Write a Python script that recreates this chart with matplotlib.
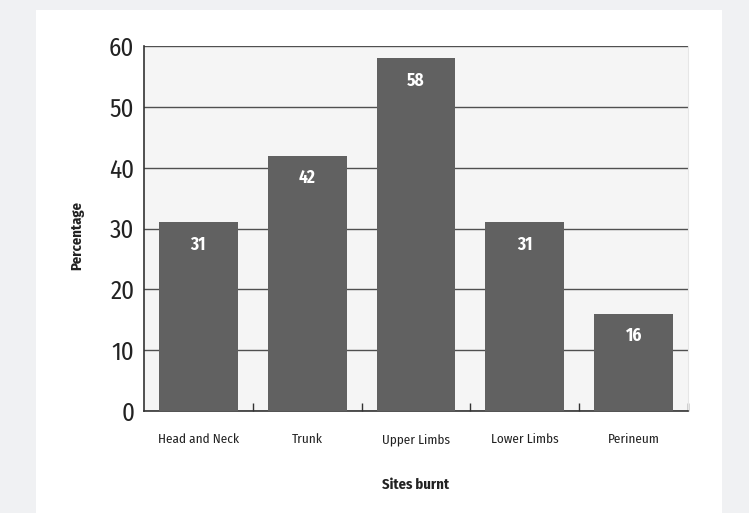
import matplotlib
matplotlib.use("Agg")
import matplotlib.pyplot as plt
from matplotlib.patches import Rectangle

# Sites of burn injury (% of patients)
sites = ["Head and Neck", "Trunk", "Upper Limbs", "Lower Limbs", "Perineum"]
percentages = [31, 42, 58, 31, 16]
yticks = [0, 10, 20, 30, 40, 50, 60]

plt.rcParams["font.family"] = ["Fira Sans Condensed", "DejaVu Sans"]

W, H = 749, 513
fig = plt.figure(figsize=(W / 100, H / 100), dpi=100)
fig.patch.set_facecolor("#f0f1f3")

# white card behind the chart
fig.patches.append(Rectangle((36 / W, 0), (722 - 36) / W, 1 - 10 / H,
                             transform=fig.transFigure, facecolor="white",
                             edgecolor="none", zorder=-5))

ax = fig.add_axes([144 / W, 1 - 411 / H, 544 / W, 365 / H], zorder=2)
ax.set_facecolor("#f5f5f5")

x = list(range(len(sites)))
ax.bar(x, percentages, width=0.725, color="#616161", zorder=3)

for xi, v in zip(x, percentages):
    ax.annotate(f"{v}", (xi, v), xytext=(0, -16), textcoords="offset points",
                ha="center", va="center", color="white", fontsize=12.5,
                fontweight="bold", zorder=4)

ax.set_xlim(-0.5, len(sites) - 0.5)
ax.set_ylim(0, 60)
ax.set_yticks(yticks)
ax.tick_params(axis="y", length=0, pad=7, labelsize=18, labelcolor="#222222")
ax.yaxis.grid(True, color="#505050", linewidth=1.0, zorder=1)
ax.set_axisbelow(True)

ax.set_xticks(x)
ax.set_xticklabels(sites)
ax.tick_params(axis="x", which="major", length=0, pad=16, labelsize=9.5,
               labelcolor="#222222")
ax.set_xticks([i + 0.5 for i in x], minor=True)
ax.tick_params(axis="x", which="minor", direction="in", length=6,
               width=1, color="#333333")

for side in ["left", "bottom"]:
    ax.spines[side].set_color("#333333")
    ax.spines[side].set_linewidth(1.2)
ax.spines["top"].set_visible(False)
ax.spines["right"].set_color("#e6e6e6")

fig.text(77 / W, 1 - 236 / H, "Percentage", rotation=90, ha="center",
         va="center", fontsize=10.5, fontweight="bold", color="#222222")
fig.text(416 / W, 1 - 485 / H, "Sites burnt", ha="center", va="center",
         fontsize=10.5, fontweight="bold", color="#222222")

fig.savefig("out.png", dpi=100, facecolor=fig.get_facecolor())
